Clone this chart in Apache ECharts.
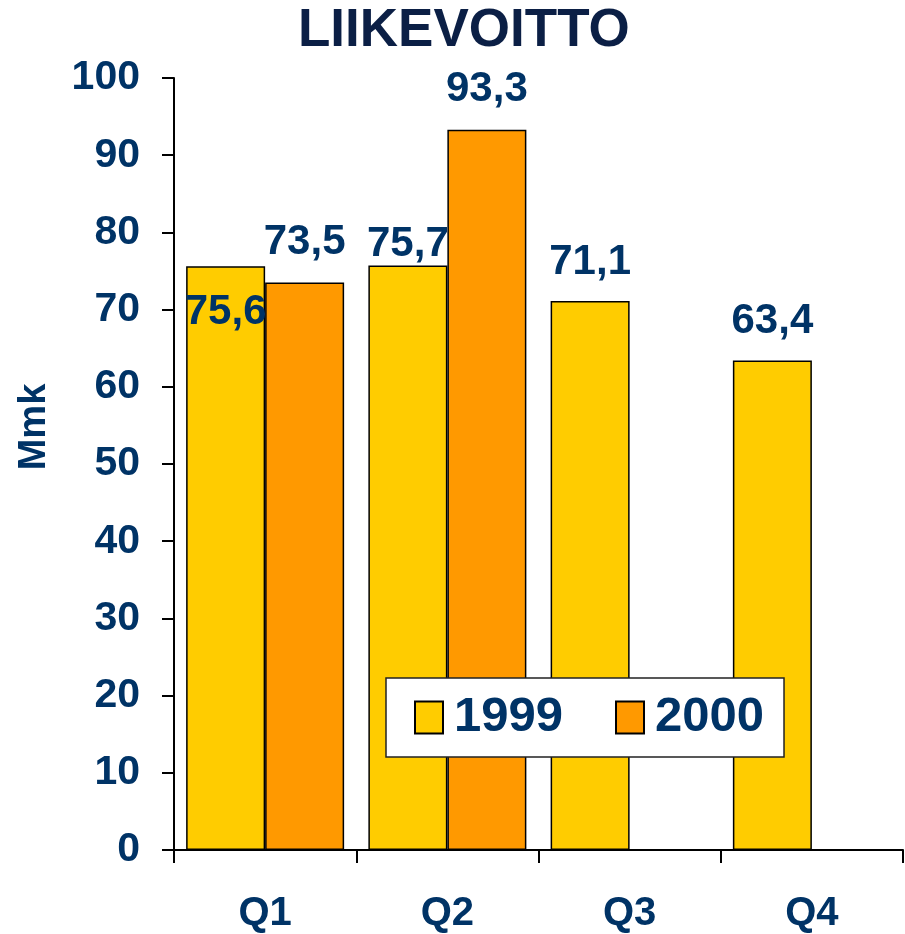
<!DOCTYPE html>
<html>
<head>
<meta charset="utf-8">
<title>LIIKEVOITTO</title>
<script src="https://cdn.jsdelivr.net/npm/echarts@6/dist/echarts.min.js"></script>
<style>
  html, body { margin: 0; padding: 0; background: #fff; }
  #chart { width: 905px; height: 934px; }
</style>
</head>
<body>
<div id="chart"></div>
<script>
var quarters = ['Q1', 'Q2', 'Q3', 'Q4'];
var years = ['1999', '2000'];
var profit1999 = [75.6, 75.7, 71.1, 63.4];
var profit2000 = [73.5, 93.3, null, null];

var navy = '#003366';
var font = '"Liberation Sans", Arial, sans-serif';

// labels were hand placed in the original slide
var labelTweaks = {
    '1999-0': {position: 'insideTop', distance: 25},
    '1999-1': {distance: 0}
};

function fmt(v) {
    return String(v.toFixed(1)).replace('.', ',');
}

function buildData(name, values) {
    return values.map(function (v, i) {
        var item = {value: v};
        var tweak = labelTweaks[name + '-' + i];
        if (tweak) {
            item.label = tweak;
        }
        return item;
    });
}

var chart = echarts.init(document.getElementById('chart'));
var option = {
    backgroundColor: '#fff',
    animation: false,
    textStyle: {fontFamily: font},
    title: {
        text: 'LIIKEVOITTO',
        left: 293, top: 0,
        textStyle: {fontSize: 53, fontWeight: 'bold', color: '#0b1f45', fontFamily: font}
    },
    legend: {
        data: years,
        left: 386, top: 678,
        backgroundColor: '#fff',
        borderColor: '#222', borderWidth: 1.5,
        padding: [15, 20, 15, 28],
        icon: 'rect',
        itemWidth: 28, itemHeight: 32, itemGap: 52,
        textStyle: {fontSize: 49, fontWeight: 'bold', color: navy, fontFamily: font, padding: [0, 0, 0, 6]}
    },
    grid: {left: 174, right: 2, top: 78, bottom: 84},
    xAxis: {
        type: 'category',
        data: quarters,
        axisLine: {lineStyle: {color: '#000', width: 2}},
        axisTick: {show: true, length: 13, lineStyle: {color: '#000', width: 2}},
        axisLabel: {fontSize: 40, fontWeight: 'bold', color: navy, margin: 44, fontFamily: font}
    },
    yAxis: {
        type: 'value',
        min: 0, max: 100, interval: 10,
        name: 'Mmk',
        nameLocation: 'middle',
        nameRotate: 90,
        nameGap: 120,
        nameTextStyle: {fontSize: 38, fontWeight: 'bold', color: navy, fontFamily: font, padding: [0, 0, 0, 74]},
        splitLine: {show: false},
        axisLine: {show: true, lineStyle: {color: '#000', width: 2}},
        axisTick: {show: true, length: 12, lineStyle: {color: '#000', width: 2}},
        axisLabel: {fontSize: 41, fontWeight: 'bold', color: navy, margin: 34, fontFamily: font}
    },
    series: [
        {
            name: years[0], type: 'bar', barWidth: 79, barGap: '0%',
            itemStyle: {color: '#ffcc00', borderColor: '#000', borderWidth: 1.5},
            label: {show: true, position: 'top', distance: 18, fontSize: 42, fontWeight: 'bold', color: navy,
                fontFamily: font, formatter: function (p) { return fmt(p.value); }},
            data: buildData('1999', profit1999)
        },
        {
            name: years[1], type: 'bar', barWidth: 79, barGap: '0%',
            itemStyle: {color: '#ff9900', borderColor: '#000', borderWidth: 1.5},
            label: {show: true, position: 'top', distance: 19, fontSize: 42, fontWeight: 'bold', color: navy,
                fontFamily: font, formatter: function (p) { return fmt(p.value); }},
            data: buildData('2000', profit2000)
        }
    ]
};
chart.setOption(option);
</script>
</body>
</html>
